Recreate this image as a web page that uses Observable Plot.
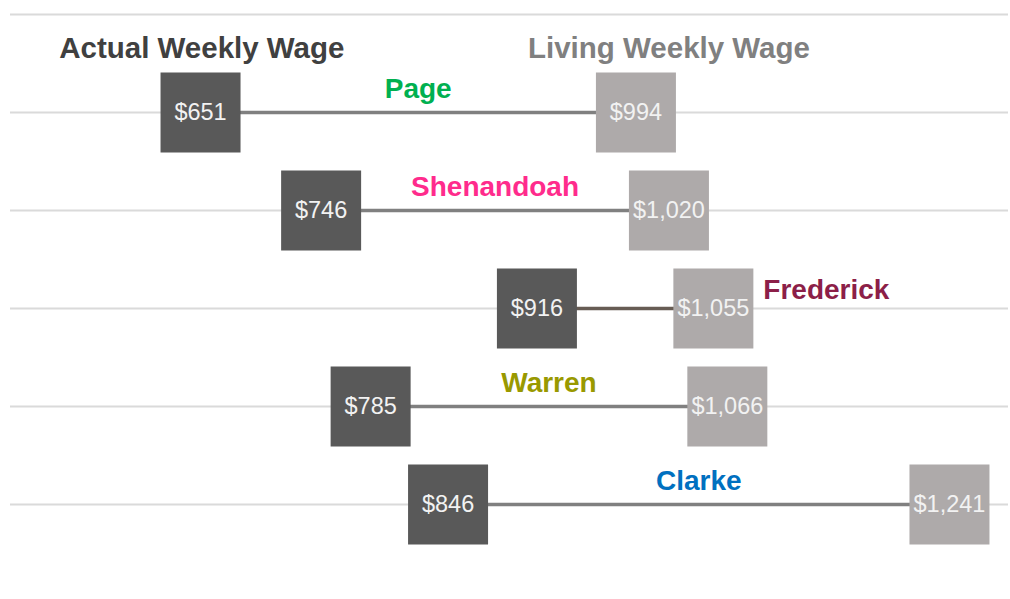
<!DOCTYPE html>
<html><head><meta charset="utf-8">
<script src="https://cdn.jsdelivr.net/npm/d3@7"></script>
<script src="https://cdn.jsdelivr.net/npm/@observablehq/plot@0.6"></script>
<style>html,body{margin:0;padding:0;background:#fff;overflow:hidden}</style>
</head><body><div id="chart"></div>
<script>
// ---- data ----
const counties = ["Page", "Shenandoah", "Frederick", "Warren", "Clarke"];
const actualWage = [651, 746, 916, 785, 846];
const livingWage = [994, 1020, 1055, 1066, 1241];
const headerLabels = ["Actual Weekly Wage", "Living Weekly Wage"];
const headerAt = [652, 1020]; // anchored on the wage scale

// ---- styles ----
const countyColor = {Page: "#00B050", Shenandoah: "#FF2B8C", Frederick: "#8C1F48", Warren: "#999900", Clarke: "#0070C0"};
const lineColor = {Frederick: "#675C54"};
const headerColor = ["#404040", "#808080"];
const font = "'Liberation Sans', Arial, Helvetica, sans-serif";

const rows = counties.map((c, i) => ({county: c, actual: actualWage[i], living: livingWage[i]}));
const headers = headerLabels.map((t, i) => ({text: t, x: headerAt[i], color: headerColor[i]}));
const fmt = v => "$" + d3.format(",")(v);
const narrow = d => d.living - d.actual < 200;
const side = 80;
const r = side / Math.sqrt(Math.PI);

const chart = Plot.plot({
  width: 1010,
  height: 599,
  marginLeft: 10,
  marginRight: 2,
  marginTop: 12.2,
  marginBottom: 93,
  style: {fontFamily: font, background: "#fff"},
  x: {domain: [501.3, 1287.5], axis: null},
  y: {type: "point", domain: ["header", ...counties], axis: null, padding: 0},
  color: {type: "identity"},
  marks: [
    Plot.ruleY(["header", ...counties], {stroke: "#dadada", strokeWidth: 2}),
    Plot.ruleY(rows, {y: "county", x1: "actual", x2: "living", stroke: d => lineColor[d.county] || "#808080", strokeWidth: 3.5}),
    Plot.dot(rows, {x: "actual", y: "county", symbol: "square", r, fill: "#595959"}),
    Plot.dot(rows, {x: "living", y: "county", symbol: "square", r, fill: "#AEAAAA"}),
    Plot.text(rows, {x: "actual", y: "county", text: d => fmt(d.actual), fill: "#f2f2f2", fontSize: 23.5}),
    Plot.text(rows, {x: "living", y: "county", text: d => fmt(d.living), fill: "#f2f2f2", fontSize: 23.5}),
    Plot.text(rows.filter(d => !narrow(d)), {x: d => (d.actual + d.living) / 2, y: "county", text: "county", fill: d => countyColor[d.county], fontSize: 28, fontWeight: "bold", dy: -23}),
    Plot.text(rows.filter(narrow), {x: "living", y: "county", text: "county", fill: d => countyColor[d.county], fontSize: 28, fontWeight: "bold", textAnchor: "start", dx: side / 2 + 10, dy: -18}),
    Plot.text(headers, {x: "x", y: () => "header", text: "text", fill: "color", fontSize: 29.5, fontWeight: "bold", dy: 34})
  ]
});
document.getElementById("chart").appendChild(chart);
</script>
</body></html>
